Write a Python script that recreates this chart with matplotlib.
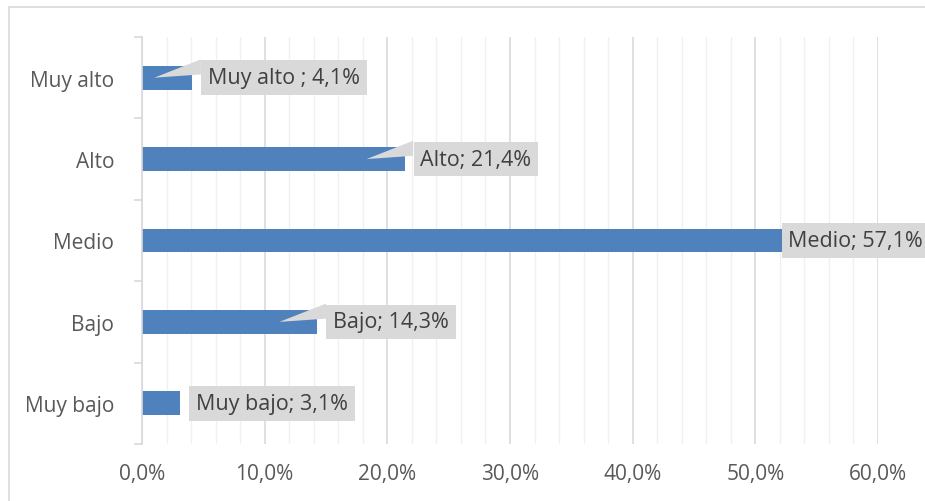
import matplotlib.pyplot as plt
from matplotlib.patches import Polygon, Rectangle
from matplotlib.ticker import MultipleLocator, FuncFormatter

categorias = ["Muy bajo", "Bajo", "Medio", "Alto", "Muy alto"]
valores = [3.1, 14.3, 57.1, 21.4, 4.1]
etiquetas = ["Muy bajo; 3,1%", "Bajo; 14,3%", "Medio; 57,1%", "Alto; 21,4%", "Muy alto ; 4,1%"]

if __name__ == "__main__":
    plt.rcParams['font.family'] = ['Open Sans', 'DejaVu Sans']

    fig = plt.figure(figsize=(9.25, 5.02), dpi=100)
    ax = fig.add_axes([142/925, 57/502, 736/925, 407/502])

    # marco del grafico
    fig.patches.append(Rectangle((9/925, -0.1), 1.2, 1.1 - 8/502, transform=fig.transFigure,
                                 fill=False, ec="#d9d9d9", lw=1.2, zorder=0))

    y = range(len(categorias))
    ax.barh(y, valores, height=0.29, color="#4f81bd", zorder=2)

    ax.set_xlim(0, 60)
    ax.set_ylim(-0.5, 4.5)
    ax.xaxis.set_major_locator(MultipleLocator(10))
    ax.xaxis.set_minor_locator(MultipleLocator(2))
    ax.xaxis.set_major_formatter(FuncFormatter(lambda v, p: f"{v:.1f}%".replace(".", ",")))
    ax.grid(True, axis='x', which='major', color="#d9d9d9", lw=1.2, zorder=0)
    ax.grid(True, axis='x', which='minor', color="#f0f0f0", lw=1.0, zorder=0)
    ax.tick_params(axis='x', which='both', length=0, pad=14, labelsize=15, labelcolor="#595959")

    ax.set_yticks(list(y))
    ax.set_yticklabels(categorias)
    ax.set_yticks([i - 0.5 for i in range(len(categorias) + 1)], minor=True)
    ax.tick_params(axis='y', which='major', length=0, pad=20, labelsize=15, labelcolor="#595959")
    ax.tick_params(axis='y', which='minor', length=6, width=1.2, color="#d9d9d9")

    for s in ["top", "right", "bottom"]:
        ax.spines[s].set_visible(False)
    ax.spines["left"].set_color("#d9d9d9")
    ax.spines["left"].set_linewidth(1.2)

    vmax = max(valores)
    for i, (v, t) in enumerate(zip(valores, etiquetas)):
        if v == vmax:
            xt = v - 4.4
        else:
            xt = v + 1.3
        ax.text(xt, i, t, ha='left', va='center', fontsize=15.5, color="#404040",
                bbox=dict(boxstyle="square,pad=0.32", fc="#d9d9d9", ec="none"),
                zorder=4, clip_on=False)
        tip = v - 3.1
        if v != vmax and tip > 0.5:
            bl = xt - 0.6
            ax.add_patch(Polygon([(tip, i), (bl, i + 0.225), (bl, i + 0.04)],
                                 closed=True, fc="#d9d9d9", ec="none", zorder=3))

    fig.savefig("out.png", dpi=100)
